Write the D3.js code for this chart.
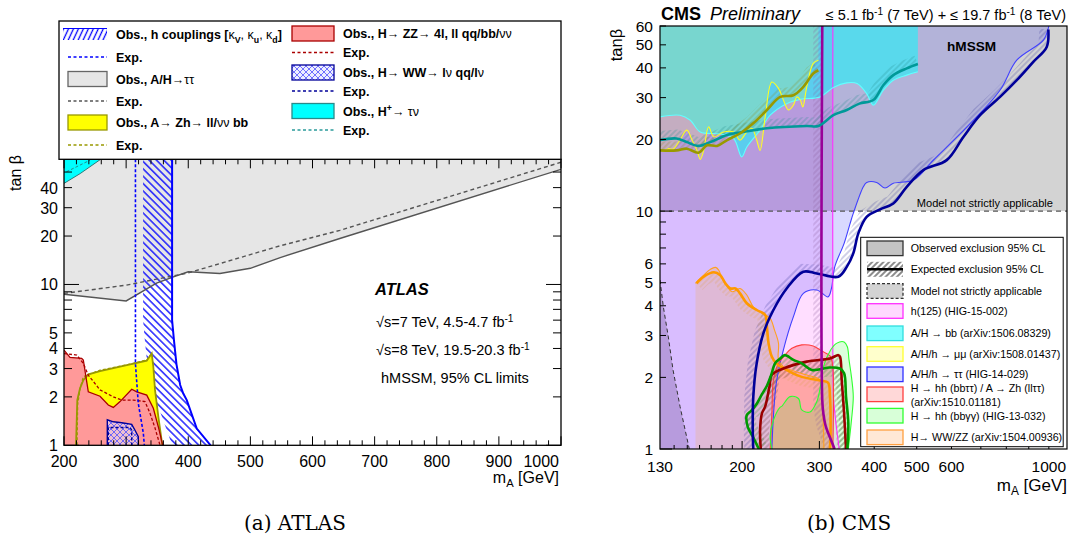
<!DOCTYPE html>
<html>
<head>
<meta charset="utf-8">
<script src="https://cdn.jsdelivr.net/npm/d3@7"></script>
<style>
  body { margin: 0; background: #fff; }
  svg { display: block; }
  text { font-family: "Liberation Sans", Arial, Helvetica, sans-serif; fill: #000; }
</style>
</head>
<body>
<svg id="chart" width="1075" height="543"></svg>
<script>
// ===================== (a) ATLAS : hMSSM limits, points are [mA (GeV), tanβ] =====================
const atlasTauObs = [[200,8.7],[300,7.9],[349,10.2],[375,11.1],[400,12.0],[451,11.7],[500,12.6],[548,14.7],[644,19.3],[1000,52]];
const atlasTauExp = [[200,8.8],[300,9.9],[400,11.8],[548,17.4],[644,21.7],[1000,57.5]];
const atlasHpObs  = [[200,42.5],[226,48.9],[259,60]];
const atlasHpExp  = [[204,50.2],[242,59.3]];
const atlasCoupObs = [[374,60],[374,6],[377,4.5],[381,3.2],[387,2.37],[392,2.1],[397.6,1.91],[413.7,1.27],[436,1]];
const atlasCoupExp = [[315,60],[315,3.2],[319.6,1.82],[327.7,1.19],[329.3,1]];
const atlasZZObs = [[200,3.91],[209.7,3.52],[228.5,3.47],[231.1,3.39],[239.1,2.15],[258,2.02],[271.3,1.78],[279.4,1.72],[290.2,1.87],[309,2.23],[317.1,2.15],[333.2,2.05],[343.8,1.70],[351.9,1.30],[358.9,1]];
const atlasZZExp = [[200,3.72],[220.5,3.64],[231.1,3.23],[239.1,2.73],[258,2.21],[279.4,2.00],[292.9,1.91],[311.6,1.91],[330.4,1.87],[338.5,1.58],[346.5,1.28],[354.6,1]];
const atlasZhObs = [[219.3,1],[220.5,1.44],[221.4,1.91],[225.8,2.26],[231.1,2.54],[239.1,2.76],[258,2.89],[301,3.15],[333.2,3.36],[341.2,3.72],[343.8,3.08],[346.5,2.21],[351.9,1.50],[358.3,1]];
const atlasZhExp = [[221,1],[222,1.8],[226,2.25],[231.1,2.67],[258,2.93],[303.5,3.18],[333.2,3.39],[338.5,3.64]];
const atlasWWObs = [[269.7,1],[269.7,1.44],[279.4,1.40],[292.9,1.38],[309,1.35],[314.3,1.24],[319.6,1.13],[319.6,1]];
const atlasWWExp = [[271.3,1],[271.3,1.29],[306.3,1.29],[309,1.24],[309,1]];
const atlasXLabels = [200,300,400,500,600,700,800,900,1000];
const atlasYLabels = [1,2,3,4,5,10,20,30,40];

// ===================== (b) CMS : hMSSM limits, points are [mA (GeV), tanβ] =====================
const cmsModelLimit = 10;
const cmsGreyLow = [[130,5.13],[132.3,3.96],[135.8,2.96],[139.2,2.15],[144.4,1.51],[151.6,1]];
const cmsTauObs = [[233.8,1],[235.7,1.37],[239.3,1.89],[248.4,2.61],[261.8,3.60],[275.8,4.51],[295.9,4.66],[313.9,4.36],[319.6,4.73],[325.2,5.83],[341.6,7.32],[352,8.8],[358.4,9.78],[377.8,12.65],[384.5,13.2],[405.3,13.2],[423.3,12.5],[442.2,13.1],[492,13.5],[546,16.4],[651,22.6],[774,32.2],[845,43.1],[972,52.3],[997,58.6],[1000,60]];
const cmsTauExp = [[212.1,1],[211.5,1.2],[212.1,1.66],[215.9,2.29],[223.6,3.06],[235.7,3.84],[252.7,4.73],[275.8,5.56],[295.9,5.47],[331.4,5.30],[346.3,5.83],[358.4,6.64],[368,8.06],[384.5,9.46],[412.4,10.17],[442.2,10.77],[474.5,12.65],[517.6,14.87],[585.1,16.38],[638.6,20.5],[697.1,25.3],[774.2,30.2],[845.1,35.5],[921.8,42.4],[988.9,49],[997.4,58]];
const cmsH125Obs = [[322,60],[322,2.5],[323,1.66],[327,1.3],[333,1]];
const cmsH125Exp = [[304.6,60],[304.6,1.6],[306.5,1.4],[310,1.25],[317,1.12],[325,1]];
const cmsBbObs = [[130,24.9],[144.4,25.3],[152.4,24.1],[160.6,21.5],[178.4,21.1],[191.3,20.2],[199.6,16.9],[205,18.6],[219.8,21.9],[231.7,25.3],[252.7,28.3],[271.4,29.5],[301.1,30.2],[322.8,33.1],[346.3,34.6],[365.6,34.4],[384.5,31.2],[398.1,27.9],[419.5,32.2],[442.2,35.5],[474.5,37.3],[503,38.5]];
const cmsBbExp = [[130,19.9],[141.8,20.2],[149.7,19.5],[159.1,18.8],[169.3,19.5],[184.9,20.9],[201.3,21.5],[227.8,22.3],[280.8,22.8],[298.5,22.8],[322.8,25.3],[346.3,26.6],[370,28.3],[398.1,29.3],[419.5,33.8],[442.2,37.3],[474.5,39.8],[503,41.5]];
const cmsMmObs = [[130,18.3],[132.3,17.8],[135.8,18.3],[139.2,18.2],[144.4,19.9],[149.7,21.9],[153.8,19.9],[157.8,18.0],[160.6,16.5],[163.5,18.0],[167.8,22.6],[172.5,20.5],[181.5,21.5],[191.3,21.5],[197.8,19.9],[205,21.5],[210.4,22.3],[215.9,19.9],[219.8,18.0],[225.8,24.9],[233.8,34.9],[242.1,32.8],[248.4,29.3],[255.1,26.6],[261.8,27.9],[266.5,30.2],[271.4,29.3],[275,27.4],[280.8,33.3],[290.5,41.8],[298.5,43.1]];
const cmsMmExp = [[130,18.0],[141.8,18.0],[149.7,18.3],[159.1,17.6],[166.4,18.9],[175.4,18.8],[184.9,19.9],[197.8,21.2],[212.1,23.4],[227.8,26.6],[244.3,30.2],[261.8,30.7],[275.8,33.3],[290.5,37.9],[298.5,39.1]];
const cmsWzObs = [[156.6,4.97],[163.5,5.38],[169.3,5.69],[173.9,5.80],[176.9,5.65],[180,5.21],[184.9,4.81],[189.7,4.58],[197.8,4.73],[205,4.44],[212.1,3.96],[221.9,3.72],[231.7,3.54],[237.1,3.16],[242.1,2.78],[242.1,2.37],[248.4,2.22],[280,2.05],[301,1.95],[303.7,1.66],[306.3,1.28],[307.2,1]];
const cmsWzExp = [[157.4,4.97],[163.5,5.30],[172.5,5.53],[178.4,5.38],[183.2,4.97],[188,4.73],[193.2,4.73],[197.8,4.51],[205,4.10],[215.9,3.84],[225.8,3.66],[227.8,3.26],[229.8,2.78],[233.8,2.44],[239.3,2.29],[257.2,2.11],[273.5,2.01],[301.1,1.94],[313.9,1.90],[317.1,1.66],[318.2,1.20],[317.1,1]];
const cmsHhTauObs = [[231.7,1],[233.8,1.41],[235.7,1.95],[242,2.29],[250.2,2.48],[259.7,2.65],[273.5,2.74],[290.5,2.71],[301.1,2.61],[311.4,2.52],[318,2.45],[322,2.2],[323,1.6],[322,1]];
const cmsHhTauExp = [[220.6,1],[219.8,1.2],[221.9,1.41],[225.8,1.51],[230.9,1.83],[233.8,2.05],[248.4,2.18],[280.8,2.33],[317.1,2.40],[331.4,2.48],[334.4,2.44],[337.3,1.95],[341.6,1.41],[345,1]];
const cmsHhGgObs = [[233.8,1],[231.7,1.13],[235.7,1.32],[244.3,1.5],[246.2,1.51],[257.2,1.66],[268.8,1.63],[273.5,1.46],[285.5,1.43],[295.9,1.58],[301.1,1.80],[306,2.2],[318,2.6],[328.1,2.78],[341.6,2.82],[347.4,2.69],[350.5,2.37],[355,2.01],[358.4,1.66],[355,1.32],[349.2,1]];
const cmsHhGgExp = [[218.4,1],[212,1.12],[206,1.24],[205,1.39],[210,1.45],[216,1.55],[222,1.7],[228,1.85],[233,2.05],[238,2.3],[244.3,2.40],[250.2,2.48],[261.8,2.37],[273.5,2.29],[288.1,2.15],[317.1,2.20],[334.4,2.18],[341.6,2.08],[345,1.66],[349.2,1.28],[347.4,1]];
const cmsXLabels = [130,200,300,400,500,600,1000];
const cmsYLabels = [1,2,3,4,5,6,10,20,30,40,50,60];
const cmsLegend = [
  "Observed exclusion 95% CL", "Expected exclusion 95% CL", "Model not strictly applicable",
  "h(125) (HIG-15-002)", "A/H \u2192 bb (arXiv:1506.08329)", "A/H/h \u2192 \u03bc\u03bc (arXiv:1508.01437)",
  "A/H/h \u2192 \u03c4\u03c4  (HIG-14-029)", "H \u2192 hh (bb\u03c4\u03c4) / A \u2192 Zh (ll\u03c4\u03c4)",
  "H \u2192 hh (bb\u03b3\u03b3) (HIG-13-032)", "H\u2192 WW/ZZ (arXiv:1504.00936)"
];

// ===================== helpers =====================
const svg = d3.select("#chart");
const defs = svg.append("defs");

function hatch(id, color, sp, sw, angle, opacity) {
  const p = defs.append("pattern").attr("id", id).attr("patternUnits", "userSpaceOnUse")
    .attr("width", sp).attr("height", sp).attr("patternTransform", `rotate(${angle})`);
  p.append("line").attr("x1", sp / 2).attr("y1", 0).attr("x2", sp / 2).attr("y2", sp)
    .attr("stroke", color).attr("stroke-width", sw).attr("stroke-opacity", opacity == null ? 1 : opacity);
}
function lineGen(sx, sy, curve) {
  return d3.line().x(d => sx(d[0])).y(d => sy(d[1])).curve(curve || d3.curveLinear);
}
// closed region: straight corner points before/after a (possibly curved) boundary
function region(sx, sy, pre, pts, post, curve) {
  const c = lineGen(sx, sy, curve)(pts);
  let s = pre.length ? "M" + pre.map(p => sx(p[0]) + "," + sy(p[1])).join("L") + "L" + c.slice(1) : c;
  if (post.length) s += "L" + post.map(p => sx(p[0]) + "," + sy(p[1])).join("L");
  return s + "Z";
}
// band on one side of a line (d > 0: right of travel direction), in pixels
function band(sx, sy, pts, d) {
  const px = pts.map(p => [sx(p[0]), sy(p[1])]);
  const n = px.length, off = [];
  for (let i = 0; i < n; i++) {
    const a = px[Math.max(0, i - 1)], b = px[Math.min(n - 1, i + 1)];
    const dx = b[0] - a[0], dy = b[1] - a[1], L = Math.hypot(dx, dy) || 1;
    off.push([px[i][0] - d * dy / L, px[i][1] + d * dx / L]);
  }
  const all = px.concat(off.reverse());
  return "M" + all.map(p => p[0] + "," + p[1]).join("L") + "Z";
}
function rich(g, x, y, parts, attrs) {
  const t = g.append("text").attr("x", x).attr("y", y);
  for (const k in attrs) t.attr(k, attrs[k]);
  let shift = 0;
  parts.forEach(([s, st]) => {
    const sp = t.append("tspan").text(s);
    const target = st === "sub" ? 4 : st === "sup" ? -5 : 0;
    if (target !== shift) { sp.attr("dy", target - shift); shift = target; }
    if (st === "sub" || st === "sup") sp.attr("font-size", "70%");
    if (st === "n") sp.attr("font-weight", "normal");
    if (st === "b") sp.attr("font-weight", "bold");
  });
  return t;
}

// patterns
hatch("coupHatch", "#0000ff", 5.2, 1.3, -45);
hatch("coupLegHatch", "#0000ff", 4.5, 1.3, 25);
hatch("hatchBlack", "#000", 4, 0.9, 45);
const wwPat = defs.append("pattern").attr("id", "wwCross").attr("patternUnits", "userSpaceOnUse")
  .attr("width", 6).attr("height", 6);
wwPat.append("rect").attr("width", 6).attr("height", 6).attr("fill", "#dde0ff").attr("fill-opacity", 0.55);
wwPat.append("path").attr("d", "M0,0L6,6M6,0L0,6").attr("stroke", "#5050ff").attr("stroke-width", 0.8);
const cmsHatchColors = { tau: "#3a3a9a", h125: "#8a5a9a", bb: "#208a8a", mm: "#8a8a20", wz: "#e0a050", red: "#6a3030", green: "#208a20" };
Object.entries(cmsHatchColors).forEach(([k, c]) => hatch("h_" + k, c, 4, 0.8, 45, 0.6));

// ===================== panel (a) ATLAS =====================
const ax = d3.scaleLinear().domain([200, 1000]).range([64, 561]);
const ay = d3.scaleLog().domain([1, 60]).range([445.3, 159.3]);
const A = svg.append("g");
defs.append("clipPath").attr("id", "clipA").append("rect")
  .attr("x", 64).attr("y", 159.3).attr("width", 497).attr("height", 286);
const Ap = A.append("g").attr("clip-path", "url(#clipA)");

// A/H→ττ
Ap.append("path").attr("d", region(ax, ay, [], atlasTauObs, [[1000, 60], [200, 60]])).attr("fill", "#e6e6e6");
// H+→τν
Ap.append("path").attr("d", region(ax, ay, [[200, 60]], atlasHpObs, [])).attr("fill", "#00ffff");
Ap.append("path").attr("d", lineGen(ax, ay)(atlasHpObs)).attr("fill", "none").attr("stroke", "#2a7a7a").attr("stroke-width", 1);
Ap.append("path").attr("d", lineGen(ax, ay)(atlasHpExp)).attr("fill", "none").attr("stroke", "#2a8a8a").attr("stroke-width", 1).attr("stroke-dasharray", "3,2");
// h couplings hatch
Ap.append("path").attr("d", band(ax, ay, atlasCoupObs, 29)).attr("fill", "url(#coupHatch)");
// A→Zh
Ap.append("path").attr("d", region(ax, ay, [], atlasZhObs, [])).attr("fill", "#ffff00");
// H→ZZ
Ap.append("path").attr("d", region(ax, ay, [[200, 1]], atlasZZObs, [])).attr("fill", "#ff9999");
// H→WW
Ap.append("path").attr("d", region(ax, ay, [], atlasWWObs, [])).attr("fill", "url(#wwCross)");
Ap.append("path").attr("d", lineGen(ax, ay)(atlasWWObs)).attr("fill", "none").attr("stroke", "#000099").attr("stroke-width", 1.4);
Ap.append("path").attr("d", lineGen(ax, ay)(atlasWWExp)).attr("fill", "none").attr("stroke", "#000099").attr("stroke-width", 1.4).attr("stroke-dasharray", "3,2");
// lines
Ap.append("path").attr("d", lineGen(ax, ay)(atlasZhObs)).attr("fill", "none").attr("stroke", "#999900").attr("stroke-width", 1.8);
Ap.append("path").attr("d", lineGen(ax, ay)(atlasZhExp)).attr("fill", "none").attr("stroke", "#999900").attr("stroke-width", 1.3).attr("stroke-dasharray", "3,2");
Ap.append("path").attr("d", lineGen(ax, ay)(atlasZZObs)).attr("fill", "none").attr("stroke", "#aa0000").attr("stroke-width", 1.3);
Ap.append("path").attr("d", lineGen(ax, ay)(atlasZZExp)).attr("fill", "none").attr("stroke", "#aa0000").attr("stroke-width", 1.3).attr("stroke-dasharray", "3,2");
Ap.append("path").attr("d", lineGen(ax, ay)(atlasTauObs)).attr("fill", "none").attr("stroke", "#555").attr("stroke-width", 1.4);
Ap.append("path").attr("d", lineGen(ax, ay)(atlasTauExp)).attr("fill", "none").attr("stroke", "#555").attr("stroke-width", 1.4).attr("stroke-dasharray", "4,3");
Ap.append("path").attr("d", lineGen(ax, ay)(atlasCoupObs)).attr("fill", "none").attr("stroke", "#0000ff").attr("stroke-width", 2);
Ap.append("path").attr("d", lineGen(ax, ay)(atlasCoupExp)).attr("fill", "none").attr("stroke", "#0000ff").attr("stroke-width", 1.6).attr("stroke-dasharray", "3,2");

// frame + ticks
A.append("rect").attr("x", 64).attr("y", 159.3).attr("width", 497).attr("height", 286)
  .attr("fill", "none").attr("stroke", "#000").attr("stroke-width", 1.3);
const aTicks = A.append("g").attr("stroke", "#000").attr("stroke-width", 1);
d3.range(200, 1001, 20).forEach(v => {
  const len = v % 100 === 0 ? 9 : 5, x = ax(v);
  aTicks.append("line").attr("x1", x).attr("x2", x).attr("y1", 445.3).attr("y2", 445.3 - len);
  aTicks.append("line").attr("x1", x).attr("x2", x).attr("y1", 159.3).attr("y2", 159.3 + len);
});
d3.range(1, 10).concat(d3.range(10, 61, 10)).forEach(v => {
  const len = (v === 1 || v === 10) ? 15 : 8, y = ay(v);
  aTicks.append("line").attr("x1", 64).attr("x2", 64 + len).attr("y1", y).attr("y2", y);
  aTicks.append("line").attr("x1", 561).attr("x2", 561 - len).attr("y1", y).attr("y2", y);
});
atlasXLabels.forEach((v, i) => {
  const last = i === atlasXLabels.length - 1;
  A.append("text").attr("x", last ? ax(v) - 2 : ax(v)).attr("y", 466.5)
    .attr("text-anchor", last ? "end" : "middle").attr("font-size", 16).text(v);
});
atlasYLabels.forEach(v => A.append("text").attr("x", 58).attr("y", ay(v) + 6).attr("text-anchor", "end").attr("font-size", 16).text(v));
A.append("text").attr("transform", "translate(21,173) rotate(-90)").attr("text-anchor", "middle").attr("font-size", 16).text("tan \u03b2");
rich(A, 559, 483, [["m", ""], ["A", "sub"], [" [GeV]", ""]], { "text-anchor": "end", "font-size": 16 });

// labels inside plot
A.append("text").attr("x", 375).attr("y", 295).attr("font-size", 16.5).attr("font-weight", "bold").attr("font-style", "italic").text("ATLAS");
rich(A, 376, 327, [["\u221as=7 TeV, 4.5-4.7 fb", ""], ["-1", "sup"]], { "font-size": 14.5 });
rich(A, 376, 355, [["\u221as=8 TeV, 19.5-20.3 fb", ""], ["-1", "sup"]], { "font-size": 14.5 });
A.append("text").attr("x", 381).attr("y", 383).attr("font-size", 14.5).text("hMSSM, 95% CL limits");

// legend (a)
const LA = A.append("g");
LA.append("rect").attr("x", 59).attr("y", 21).attr("width", 502).attr("height", 138.3).attr("fill", "#fff").attr("stroke", "#000").attr("stroke-width", 1.3);
function legBox(g, x, yc, fill, stroke, w) {
  g.append("rect").attr("x", x).attr("y", yc - 7.5).attr("width", w).attr("height", 15).attr("fill", fill).attr("stroke", stroke).attr("stroke-width", 1.3);
}
function legDash(g, x1, x2, yc, stroke) {
  g.append("line").attr("x1", x1).attr("x2", x2).attr("y1", yc).attr("y2", yc).attr("stroke", stroke).attr("stroke-width", 1.3).attr("stroke-dasharray", "3,2.5");
}
const lt = { "font-size": 12.5, "font-weight": "bold" };
LA.append("rect").attr("x", 63).attr("y", 28).attr("width", 44).attr("height", 12).attr("fill", "url(#coupLegHatch)");
LA.append("line").attr("x1", 63).attr("x2", 107).attr("y1", 28.5).attr("y2", 28.5).attr("stroke", "#0000ff").attr("stroke-width", 1);
rich(LA, 116, 39, [["Obs., h couplings [", "b"], ["\u03ba", "n"], ["V", "sub"], [",  ", "n"], ["\u03ba", "n"], ["u", "sub"], [",  ", "n"], ["\u03ba", "n"], ["d", "sub"], ["]", "b"]], lt);
legDash(LA, 68, 107, 57, "#0000ff");
rich(LA, 116, 61.5, [["Exp.", "b"]], lt);
legBox(LA, 68, 79, "#e6e6e6", "#666", 39);
rich(LA, 116, 83.5, [["Obs., A/H", "b"], ["\u2192\u03c4\u03c4", "n"]], lt);
legDash(LA, 68, 107, 101, "#555");
rich(LA, 116, 105.5, [["Exp.", "b"]], lt);
legBox(LA, 68, 122.5, "#ffff00", "#999900", 39);
rich(LA, 116, 127, [["Obs., A", "b"], ["\u2192", "n"], [" Zh", "b"], ["\u2192", "n"], [" ll/", "b"], ["\u03bd\u03bd", "n"], [" bb", "b"]], lt);
legDash(LA, 68, 107, 145, "#999900");
rich(LA, 116, 149.5, [["Exp.", "b"]], lt);

legBox(LA, 292, 33.5, "#ff9999", "#aa0000", 42);
rich(LA, 343, 38, [["Obs., H", "b"], ["\u2192", "n"], [" ZZ", "b"], ["\u2192", "n"], [" 4l, ll qq/bb/", "b"], ["\u03bd\u03bd", "n"]], lt);
legDash(LA, 292, 334, 52.5, "#aa0000");
rich(LA, 343, 57, [["Exp.", "b"]], lt);
legBox(LA, 292, 72.5, "url(#wwCross)", "#000099", 42);
rich(LA, 343, 77, [["Obs., H", "b"], ["\u2192", "n"], [" WW", "b"], ["\u2192", "n"], [" l", "b"], ["\u03bd", "n"], [" qq/l", "b"], ["\u03bd", "n"]], lt);
legDash(LA, 292, 334, 91, "#000099");
rich(LA, 343, 95.5, [["Exp.", "b"]], lt);
legBox(LA, 292, 111, "#00ffff", "#2a8a8a", 42);
rich(LA, 343, 115.5, [["Obs., H", "b"], ["+", "sup"], ["\u2192  \u03c4\u03bd", "n"]], lt);
legDash(LA, 292, 334, 130, "#2a9a9a");
rich(LA, 343, 134.5, [["Exp.", "b"]], lt);

A.append("text").attr("x", 295).attr("y", 530).attr("text-anchor", "middle").attr("font-size", 20)
  .style("font-family", "'DejaVu Serif', 'Liberation Serif', serif").text("(a) ATLAS");

// ===================== panel (b) CMS =====================
const cx = d3.scaleLog().domain([130, 1100]).range([660, 1067]);
const cy = d3.scaleLog().domain([1, 60]).range([449, 26]);
const C = svg.append("g");
defs.append("clipPath").attr("id", "clipC").append("rect")
  .attr("x", 660).attr("y", 26).attr("width", 407).attr("height", 423);
const Cp = C.append("g").attr("clip-path", "url(#clipC)");
const smooth = d3.curveCatmullRom.alpha(0.5);

// model-not-applicable areas
Cp.append("path").attr("d", region(cx, cy, [[130, cmsModelLimit], [1100, cmsModelLimit], [1100, 60], [130, 60]], [[130, 60]], [])).attr("fill", "#d3d3d3");
Cp.append("path").attr("d", region(cx, cy, [[130, 1]], cmsGreyLow, [])).attr("fill", "#d3d3d3");
// h(125)
Cp.append("path").attr("d", region(cx, cy, [[130, 60]], cmsH125Obs, [[130, 1]])).attr("fill", "#ff00ff").attr("fill-opacity", 0.13);
// A/H/h→ττ
Cp.append("path").attr("d", region(cx, cy, [[130, 1]], cmsTauObs, [[130, 60]], smooth)).attr("fill", "#0000ff").attr("fill-opacity", 0.15);
// A/H→bb
Cp.append("path").attr("d", region(cx, cy, [[130, 60]], cmsBbObs, [[503, 60]], smooth)).attr("fill", "#00ffff").attr("fill-opacity", 0.5);
// A/H/h→μμ
Cp.append("path").attr("d", region(cx, cy, [[130, 60]], cmsMmObs, [[298.5, 60]], smooth)).attr("fill", "#ffff40").attr("fill-opacity", 0.18);
// H→WW/ZZ
Cp.append("path").attr("d", region(cx, cy, [[156.6, 1]], cmsWzObs, [], smooth)).attr("fill", "#ffa500").attr("fill-opacity", 0.16);
// H→hh (bbττ) / A→Zh
Cp.append("path").attr("d", region(cx, cy, [], cmsHhTauObs, [], smooth)).attr("fill", "#ff0000").attr("fill-opacity", 0.22);
// H→hh (bbγγ)
Cp.append("path").attr("d", region(cx, cy, [], cmsHhGgObs, [], smooth)).attr("fill", "#00ff00").attr("fill-opacity", 0.14);

// boundaries of the model region
Cp.append("line").attr("x1", 660).attr("x2", 1067).attr("y1", cy(cmsModelLimit)).attr("y2", cy(cmsModelLimit))
  .attr("stroke", "#555").attr("stroke-width", 1.1).attr("stroke-dasharray", "5,4");
Cp.append("path").attr("d", lineGen(cx, cy)(cmsGreyLow)).attr("fill", "none").attr("stroke", "#333").attr("stroke-width", 1).attr("stroke-dasharray", "4,3");

// expected hatching
const expected = [
  [cmsTauExp, -9, "tau"], [cmsH125Exp, 9, "h125"], [cmsBbExp, -9, "bb"], [cmsMmExp, -9, "mm"],
  [cmsWzExp, 9, "wz"], [cmsHhTauExp, 9, "red"], [cmsHhGgExp, 9, "green"]
];
expected.forEach(([pts, d, k]) => Cp.append("path").attr("d", band(cx, cy, pts, d)).attr("fill", `url(#h_${k})`));

// observed (thin) lines
const obsLines = [
  [cmsTauObs, "#4040ff"], [cmsH125Obs, "#ff30ff"], [cmsBbObs, "#60ffff"], [cmsMmObs, "#ffff20"],
  [cmsWzObs, "#ffa020"], [cmsHhTauObs, "#ff4040"], [cmsHhGgObs, "#30ff30"]
];
obsLines.forEach(([pts, c]) => Cp.append("path").attr("d", lineGen(cx, cy, smooth)(pts)).attr("fill", "none").attr("stroke", c).attr("stroke-width", 1.1));
// expected (thick) lines
const expLines = [
  [cmsWzExp, "#ff9900"], [cmsHhTauExp, "#990000"], [cmsHhGgExp, "#009900"], [cmsTauExp, "#000099"],
  [cmsH125Exp, "#990099"], [cmsBbExp, "#009999"], [cmsMmExp, "#999900"]
];
expLines.forEach(([pts, c]) => Cp.append("path").attr("d", lineGen(cx, cy, smooth)(pts)).attr("fill", "none").attr("stroke", c).attr("stroke-width", 2.6));

// in-plot texts
Cp.append("text").attr("x", 1053).attr("y", cy(cmsModelLimit) - 4).attr("text-anchor", "end").attr("font-size", 11.1).text("Model not strictly applicable");
C.append("text").attr("x", 947).attr("y", 51).attr("font-size", 13.6).attr("font-weight", "bold").text("hMSSM");

// frame + ticks
C.append("rect").attr("x", 660).attr("y", 26).attr("width", 407).attr("height", 423)
  .attr("fill", "none").attr("stroke", "#000").attr("stroke-width", 1.2);
const cTicks = C.append("g").attr("stroke", "#000").attr("stroke-width", 1);
d3.range(140, 200, 10).concat(d3.range(200, 1001, 100)).forEach(v => {
  const len = v >= 200 ? 8 : 4, x = cx(v);
  cTicks.append("line").attr("x1", x).attr("x2", x).attr("y1", 449).attr("y2", 449 - len);
});
d3.range(1, 10).concat(d3.range(10, 61, 10)).forEach(v => {
  const len = (v === 1 || v === 10) ? 12 : 6, y = cy(v);
  cTicks.append("line").attr("x1", 660).attr("x2", 660 + len).attr("y1", y).attr("y2", y);
});
cmsXLabels.forEach(v => C.append("text").attr("x", cx(v)).attr("y", 471.5).attr("text-anchor", "middle").attr("font-size", 15.5).text(v));
cmsYLabels.forEach(v => C.append("text").attr("x", 653).attr("y", cy(v) + 5.5).attr("text-anchor", "end").attr("font-size", 15.5).text(v));
C.append("text").attr("transform", "translate(622,45) rotate(-90)").attr("text-anchor", "middle").attr("font-size", 16.5).text("tan\u03b2");
rich(C, 1067, 491, [["m", ""], ["A", "sub"], [" [GeV]", ""]], { "text-anchor": "end", "font-size": 17 });

// title
C.append("text").attr("x", 661).attr("y", 20).attr("font-size", 18).attr("font-weight", "bold").text("CMS");
C.append("text").attr("x", 710).attr("y", 20).attr("font-size", 18).attr("font-style", "italic").text("Preliminary");
rich(C, 1066, 20, [["\u2264 5.1 fb", ""], ["-1", "sup"], [" (7 TeV) + \u2264 19.7 fb", ""], ["-1", "sup"], [" (8 TeV)", ""]], { "text-anchor": "end", "font-size": 14.5 });

// legend (b)
const LC = C.append("g");
LC.append("rect").attr("x", 860.7).attr("y", 237.3).attr("width", 202.5).attr("height", 209.4).attr("fill", "#fff").attr("stroke", "#000").attr("stroke-width", 1);
const rowsY = [248.3, 269.3, 291, 311, 333.3, 354, 374.3, 394.3, 415.7, 437.3];
const boxStyle = [
  ["#c4c4c4", "#333", null], [null, null, null], ["#d3d3d3", "#333", "3,2"],
  ["#ffd8ff", "#ff30ff", null], ["#80ffff", "#30dede", null], ["#ffffcc", "#ffff30", null],
  ["#d8d8ff", "#3030ff", null], ["#ffd8d8", "#ff4040", null], ["#d8ffd8", "#30ff30", null], ["#ffe8d6", "#ffa040", null]
];
rowsY.forEach((yc, i) => {
  const [f, s, dash] = boxStyle[i];
  if (i === 1) {
    LC.append("rect").attr("x", 867).attr("y", yc - 7.5).attr("width", 36).attr("height", 15).attr("fill", "url(#hatchBlack)");
    LC.append("line").attr("x1", 867).attr("x2", 903).attr("y1", yc).attr("y2", yc).attr("stroke", "#000").attr("stroke-width", 2.4);
  } else {
    const r = LC.append("rect").attr("x", 867).attr("y", yc - 7.3).attr("width", 36).attr("height", 14.6)
      .attr("fill", f).attr("stroke", s).attr("stroke-width", 1.3);
    if (dash) r.attr("stroke-dasharray", dash);
  }
  const ty = i === 7 ? 392 : yc + 4;
  LC.append("text").attr("x", 910.7).attr("y", ty).attr("font-size", 10.7).text(cmsLegend[i]);
});
LC.append("text").attr("x", 910.7).attr("y", 406).attr("font-size", 10.7).text("(arXiv:1510.01181)");

C.append("text").attr("x", 849).attr("y", 530).attr("text-anchor", "middle").attr("font-size", 20)
  .style("font-family", "'DejaVu Serif', 'Liberation Serif', serif").text("(b) CMS");
</script>
</body>
</html>
